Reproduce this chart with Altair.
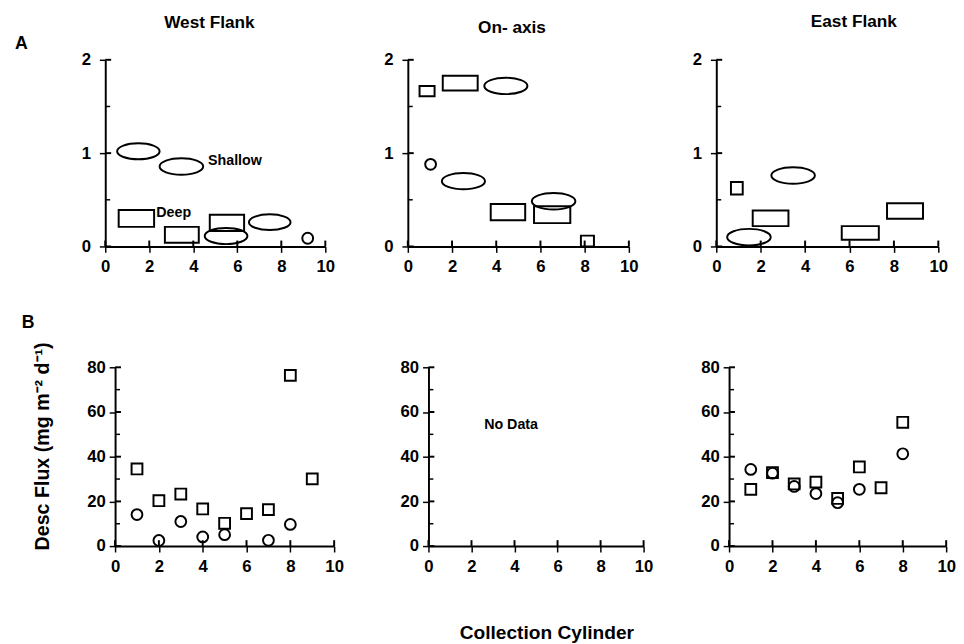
import altair as alt
import pandas as pd

FONT = "Liberation Sans"
INK = "black"

# ---------------- shared axis values ----------------
cyl_ticks = [0, 2, 4, 6, 8, 10]
a_ticks = [0, 1, 2]
a_minor = [0.5, 1.5]
b_ticks = [0, 20, 40, 60, 80]
b_minor = [10, 30, 50, 70]
panel_titles = ["West Flank", "On- axis", "East Flank"]
panel_letters = ["A", "B"]
y_title = "Desc Flux (mg m\u207b\u00b2 d\u207b\u00b9)"
x_title = "Collection Cylinder"

# ---------------- Panel A : West Flank ----------------
wA_rect_x1 = [0.61, 2.71, 4.75]
wA_rect_x2 = [2.22, 4.25, 6.31]
wA_rect_y1 = [0.21, 0.04, 0.165]
wA_rect_y2 = [0.39, 0.21, 0.34]
wA_ell_x1 = [0.54, 2.47, 4.52, 6.53]
wA_ell_x2 = [2.47, 4.45, 6.46, 8.42]
wA_ell_y = [1.02, 0.857, 0.112, 0.26]
wA_dot_x = [9.2]
wA_dot_y = [0.088]
wA_notes = ["Shallow", "Deep"]
wA_notes_x = [4.67, 2.32]
wA_notes_y = [0.917, 0.357]

# ---------------- Panel A : On-axis ----------------
oA_rect_x1 = [0.53, 1.58, 3.75, 5.71, 7.83]
oA_rect_x2 = [1.21, 3.16, 5.31, 7.35, 8.42]
oA_rect_y1 = [1.61, 1.67, 0.28, 0.25, 0.0]
oA_rect_y2 = [1.72, 1.83, 0.456, 0.43, 0.116]
oA_ell_x1 = [3.46, 1.54, 5.61]
oA_ell_x2 = [5.41, 3.49, 7.58]
oA_ell_y = [1.72, 0.70, 0.484]
oA_dot_x = [1.03]
oA_dot_y = [0.88]

# ---------------- Panel A : East Flank ----------------
eA_rect_x1 = [0.66, 1.64, 5.65, 7.69]
eA_rect_x2 = [1.19, 3.25, 7.32, 9.31]
eA_rect_y1 = [0.557, 0.218, 0.071, 0.296]
eA_rect_y2 = [0.69, 0.386, 0.218, 0.464]
eA_ell_x1 = [0.49, 2.48]
eA_ell_x2 = [2.45, 4.44]
eA_ell_y = [0.10, 0.76]

# ---------------- Panel B ----------------
wB_sq_x = [1, 2, 3, 4, 5, 6, 7, 8, 9]
wB_sq_y = [34.5, 20.3, 23.3, 16.6, 10.2, 14.5, 16.3, 76.4, 30.1]
wB_ci_x = [1, 2, 3, 4, 5, 7, 8]
wB_ci_y = [14.1, 2.5, 11.0, 4.1, 5.1, 2.6, 9.7]
oB_note = ["No Data"]
oB_note_x = [3.84]
oB_note_y = [54.3]
eB_sq_x = [1, 2, 3, 4, 5, 6, 7, 8]
eB_sq_y = [25.4, 32.9, 27.8, 28.6, 21.3, 35.4, 26.1, 55.4]
eB_ci_x = [1, 2, 3, 4, 5, 6, 8]
eB_ci_y = [34.3, 32.6, 26.7, 23.5, 19.4, 25.4, 41.3]

ELLIPSE = ("M-1,0C-1,-0.21,-0.552,-0.38,0,-0.38C0.552,-0.38,1,-0.21,1,0"
           "C1,0.21,0.552,0.38,0,0.38C-0.552,0.38,-1,0.21,-1,0Z")


def axis(**kw):
    d = dict(grid=False, domainColor=INK, domainWidth=2, tickColor=INK, tickWidth=1.5,
             tickSize=6, labelFont=FONT, labelFontSize=17, labelFontWeight="bold",
             labelColor=INK, labelOverlap=False, labelExpr="toString(datum.value)",
             titleFont=FONT, titleFontWeight="bold", titleColor=INK)
    d.update(kw)
    return alt.Axis(**d)


def text_layer(t, x, y, size, opacity=1.0, align="center"):
    return alt.Chart(pd.DataFrame({"t": [t]})).mark_text(
        font=FONT, fontSize=size, fontWeight="bold", color=INK, opacity=opacity,
        align=align, baseline="middle").encode(text="t:N", x=alt.value(x), y=alt.value(y))


def frame(W, H, ydom, yvals, yminor, ext, ylabpad, shift=0, xtitle_kw=None, ytitle_kw=None):
    if shift:
        xs = alt.Scale(domain=[0, 10], nice=False, zero=False, range=[-shift, W - shift])
    else:
        xs = alt.Scale(domain=[0, 10], nice=False, zero=False)
    ys = alt.Scale(domain=ydom, nice=False, zero=False)
    xk = dict(title=None)
    xk.update(xtitle_kw or {})
    yk = dict(title=None)
    yk.update(ytitle_kw or {})
    xa = axis(values=[float(v) for v in cyl_ticks], labelFlush=False, labelPadding=6.5, **xk)
    ya = axis(values=[float(v) for v in yvals], minExtent=ext, labelPadding=ylabpad,
              offset=shift, **yk)
    X = lambda f: alt.X(f, scale=xs, axis=xa)
    Y = lambda f: alt.Y(f, scale=ys, axis=ya)
    xr = alt.Chart(pd.DataFrame({"v": cyl_ticks})).mark_rule(color=INK, strokeWidth=2).encode(
        x=X("v:Q"), y=alt.value(H), y2=alt.value(H - 6))
    yr = alt.Chart(pd.DataFrame({"v": yvals})).mark_rule(color=INK, strokeWidth=2).encode(
        y=Y("v:Q"), x=alt.value(-shift), x2=alt.value(-shift + 6))
    ym = alt.Chart(pd.DataFrame({"v": yminor})).mark_rule(color=INK, strokeWidth=1.5).encode(
        y=Y("v:Q"), x=alt.value(-shift), x2=alt.value(-shift + 5))
    return [xr, yr, ym], X, Y


def panel_a(W, H, ext, title, title_x, title_y, rx1, rx2, ry1, ry2, ex1, ex2, ey,
            dx=None, dy=None, notes=None, letter=None, shift=0):
    layers, X, Y = frame(W, H, [0, 2], a_ticks, a_minor, ext, 9, shift=shift)
    rects = pd.DataFrame({"x1": rx1, "x2": rx2, "y1": ry1, "y2": ry2})
    layers.append(alt.Chart(rects).mark_rect(fill="transparent", stroke=INK, strokeWidth=2).encode(
        x=X("x1:Q"), x2="x2:Q", y=Y("y1:Q"), y2="y2:Q"))
    ells = pd.DataFrame({"x1": ex1, "x2": ex2, "y": ey})
    layers.append(alt.Chart(ells).transform_calculate(
        xc="(datum.x1 + datum.x2) / 2",
        sz=f"pow((datum.x2 - datum.x1) * {W} / 10, 2)").mark_point(
        shape=ELLIPSE, filled=False, color=INK, strokeWidth=2, opacity=1).encode(
        x=X("xc:Q"), y=Y("y:Q"), size=alt.Size("sz:Q", scale=None, legend=None)))
    if dx:
        dots = pd.DataFrame({"x": dx, "y": dy})
        layers.append(alt.Chart(dots).mark_point(
            shape="circle", filled=False, color=INK, strokeWidth=2, opacity=1, size=121).encode(
            x=X("x:Q"), y=Y("y:Q")))
    if notes:
        nt = pd.DataFrame({"t": notes[0], "x": notes[1], "y": notes[2]})
        layers.append(alt.Chart(nt).mark_text(
            font=FONT, fontSize=14.5, fontWeight="bold", color=INK, align="left",
            baseline="middle").encode(text="t:N", x=X("x:Q"), y=Y("y:Q")))
    layers.append(text_layer(title, title_x - shift, title_y, 17.5))
    if letter:
        layers.append(text_layer(letter, -92 - shift, -16, 18, align="left"))
    return alt.layer(*layers).properties(width=W - shift, height=H)


def panel_b(W, H, ext, sqx=None, sqy=None, cix=None, ciy=None, note=None, letter=None,
            ytitle=False, xtitle=False):
    xk = {}
    yk = {}
    if xtitle:
        xk = dict(title=x_title, titleX=120, titleY=88, titleBaseline="middle",
                  titleAlign="center", titleFontSize=19.5)
    if ytitle:
        yk = dict(title=y_title, titleX=-74, titleY=80, titleAngle=270, titleBaseline="middle",
                  titleAlign="center", titleFontSize=20)
    layers, X, Y = frame(W, H, [0, 80], b_ticks, b_minor, ext, 4, xtitle_kw=xk, ytitle_kw=yk)
    if sqx:
        sq = pd.DataFrame({"x": sqx, "y": sqy})
        layers.append(alt.Chart(sq).mark_point(
            shape="square", filled=False, color=INK, strokeWidth=2, opacity=1, size=121).encode(
            x=X("x:Q"), y=Y("y:Q")))
    if cix:
        ci = pd.DataFrame({"x": cix, "y": ciy})
        layers.append(alt.Chart(ci).mark_point(
            shape="circle", filled=False, color=INK, strokeWidth=2, opacity=1, size=121).encode(
            x=X("x:Q"), y=Y("y:Q")))
    if note:
        nt = pd.DataFrame({"t": note[0], "x": note[1], "y": note[2]})
        layers.append(alt.Chart(nt).mark_text(
            font=FONT, fontSize=14.5, fontWeight="bold", color=INK, align="center",
            baseline="middle").encode(text="t:N", x=X("x:Q"), y=Y("y:Q")))
    if letter:
        layers.append(text_layer(letter, -95, -45, 18, align="left"))
    return alt.layer(*layers).properties(width=W, height=H)


HA = 190
HB = 182

top = alt.hconcat(
    panel_a(224, HA, 20, panel_titles[0], 106, -37, wA_rect_x1, wA_rect_x2, wA_rect_y1, wA_rect_y2,
            wA_ell_x1, wA_ell_x2, wA_ell_y, wA_dot_x, wA_dot_y,
            notes=(wA_notes, wA_notes_x, wA_notes_y), letter=panel_letters[0], shift=10),
    panel_a(225, HA, 64, panel_titles[1], 106, -32, oA_rect_x1, oA_rect_x2, oA_rect_y1, oA_rect_y2,
            oA_ell_x1, oA_ell_x2, oA_ell_y, oA_dot_x, oA_dot_y),
    panel_a(226, HA, 69, panel_titles[2], 140, -38, eA_rect_x1, eA_rect_x2, eA_rect_y1, eA_rect_y2,
            eA_ell_x1, eA_ell_x2, eA_ell_y),
    spacing=10,
)

bottom = alt.hconcat(
    panel_b(223, HB, 109, wB_sq_x, wB_sq_y, wB_ci_x, wB_ci_y, letter=panel_letters[1], ytitle=True),
    panel_b(219, HB, 76, note=(oB_note, oB_note_x, oB_note_y), xtitle=True),
    panel_b(221, HB, 67, eB_sq_x, eB_sq_y, eB_ci_x, eB_ci_y),
    spacing=10,
)

chart = alt.vconcat(top, bottom, spacing=40).properties(
    padding={"left": 0, "top": 0, "right": 0, "bottom": 0},
    background="white",
).configure_view(stroke=None)

chart.save("out.html", embed_options={"renderer": "svg", "actions": False})
